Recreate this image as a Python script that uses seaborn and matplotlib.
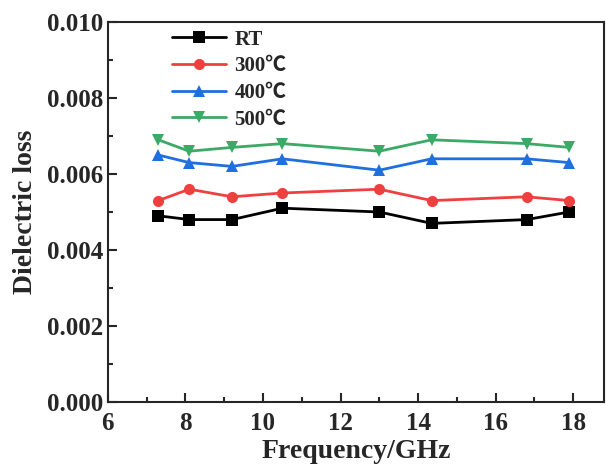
import matplotlib
matplotlib.use("Agg")
import matplotlib.pyplot as plt
import seaborn as sns
import pandas as pd
from matplotlib.ticker import MultipleLocator

freq = [7.3, 8.1, 9.2, 10.5, 13.0, 14.35, 16.8, 17.9]
rt = [0.0049, 0.0048, 0.0048, 0.0051, 0.0050, 0.0047, 0.0048, 0.0050]
t300 = [0.0053, 0.0056, 0.0054, 0.0055, 0.0056, 0.0053, 0.0054, 0.0053]
t400 = [0.0065, 0.0063, 0.0062, 0.0064, 0.0061, 0.0064, 0.0064, 0.0063]
t500 = [0.0069, 0.0066, 0.0067, 0.0068, 0.0066, 0.0069, 0.0068, 0.0067]
labels = ["RT", "300℃", "400℃", "500℃"]
colors = ["#000000", "#EF4040", "#1F6FDF", "#3AAA66"]
markers = ["s", "o", "^", "v"]

rows = []
for lab, vals in zip(labels, [rt, t300, t400, t500]):
    for f, v in zip(freq, vals):
        rows.append({"Frequency": f, "loss": v, "series": lab})
df = pd.DataFrame(rows)

sns.set_style("ticks")
plt.rcParams["font.family"] = ["Liberation Serif", "Noto Sans CJK SC", "DejaVu Serif"]
plt.rcParams["font.weight"] = "bold"

fig = plt.figure(figsize=(6.06, 4.69), dpi=100)
ax = fig.add_axes([0.178, 0.143, 0.819, 0.81])

for lab, c, m in zip(labels, colors, markers):
    sub = df[df["series"] == lab]
    sns.lineplot(data=sub, x="Frequency", y="loss", ax=ax, color=c, marker=m,
                 markersize=8, markeredgewidth=0, linewidth=2, label=lab)

ax.set_xlim(6, 18.8)
ax.set_ylim(0, 0.010)
ax.xaxis.set_major_locator(MultipleLocator(2))
ax.xaxis.set_minor_locator(MultipleLocator(1))
ax.yaxis.set_major_locator(MultipleLocator(0.002))
ax.yaxis.set_minor_locator(MultipleLocator(0.001))
ax.yaxis.set_major_formatter(matplotlib.ticker.FormatStrFormatter("%.3f"))
ax.tick_params(which="major", direction="in", length=6.5, width=1.5, labelsize=18,
               top=False, right=False)
ax.tick_params(axis="x", which="major", pad=7)
ax.tick_params(which="minor", direction="in", length=3.5, width=1.5,
               top=False, right=False)
for lbl in ax.get_xticklabels() + ax.get_yticklabels():
    lbl.set_fontweight("bold")
for s in ax.spines.values():
    s.set_linewidth(1.5)
    s.set_visible(True)
ax.set_xlabel("Frequency/GHz", fontsize=20, fontweight="bold", labelpad=3)
ax.set_ylabel("Dielectric loss", fontsize=20, fontweight="bold", labelpad=6)
leg = ax.legend(loc="upper left", bbox_to_anchor=(0.10, 1.018), frameon=False,
                handlelength=2.6, labelspacing=0.32, borderaxespad=0.3,
                handletextpad=0.4, prop={"weight": "bold", "size": 15})
fig.savefig("out.png", dpi=100)
